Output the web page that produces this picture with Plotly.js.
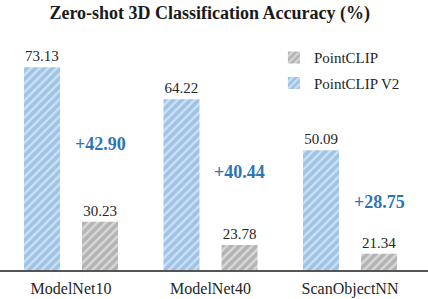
<!DOCTYPE html>
<html>
<head>
<meta charset="utf-8">
<script src="https://cdn.plot.ly/plotly-3.0.1.min.js"></script>
<style>html,body{margin:0;padding:0;background:#fff;}#chart{width:428px;height:299px;}</style>
</head>
<body>
<div id="chart"></div>
<script>
const categories = ["ModelNet10", "ModelNet40", "ScanObjectNN"];
const pointclip = [30.23, 23.78, 21.34];
const pointclipV2 = [73.13, 64.22, 50.09];
const seriesNames = ["PointCLIP", "PointCLIP V2"];

const blue = "#9dc3e6";
const gray = "#b3b3b3";
const serif = "Liberation Serif";
const textColor = "#262626";

const traceV2 = {
  type: "bar", name: seriesNames[1], x: categories, y: pointclipV2,
  text: pointclipV2.map(v => v.toFixed(2)), textposition: "outside", cliponaxis: false,
  textfont: {family: serif, size: 15, color: textColor},
  marker: {color: blue, line: {width: 0},
    pattern: {shape: "/", fgcolor: "#ffffff", bgcolor: blue, size: 6, solidity: 0.4, fillmode: "overlay"}},
  legendgroup: "b", legendrank: 2, hoverinfo: "none"
};
const traceP = {
  type: "bar", name: seriesNames[0], x: categories, y: pointclip,
  text: pointclip.map(v => v.toFixed(2)), textposition: "outside", cliponaxis: false,
  textfont: {family: serif, size: 15, color: textColor},
  marker: {color: gray, line: {width: 0},
    pattern: {shape: "/", fgcolor: "#ffffff", bgcolor: gray, size: 6, solidity: 0.4, fillmode: "overlay"}},
  legendgroup: "a", legendrank: 1, hoverinfo: "none"
};

const annotations = categories.map((c, i) => ({
  x: c, xref: "x", y: (pointclipV2[i] + pointclip[i]) / 2, yref: "y",
  xshift: 29, showarrow: false,
  text: "<b>+" + (pointclipV2[i] - pointclip[i]).toFixed(2) + "</b>",
  font: {family: serif, size: 18, color: "#2e75b6"}
}));

const layout = {
  width: 428, height: 299,
  margin: {l: 0, r: 0, t: 40, b: 29, pad: 0},
  paper_bgcolor: "#fff", plot_bgcolor: "#fff",
  title: {text: "<b>Zero-shot 3D Classification Accuracy (%)</b>", x: 0.49, xanchor: "center",
    y: 0.957, yref: "container", yanchor: "middle",
    font: {family: serif, size: 18, color: "#1a1a1a"}},
  barmode: "group", bargap: 0.168, bargroupgap: 0.38,
  xaxis: {type: "category", range: [-0.509, 2.559], showgrid: false, zeroline: false,
    showline: true, linecolor: "#555555", linewidth: 2, ticks: "", ticklabelstandoff: 3,
    tickfont: {family: serif, size: 16, color: textColor}, fixedrange: true},
  yaxis: {range: [16.8, 80.7], visible: false, showgrid: false, zeroline: false, fixedrange: true},
  showlegend: true,
  legend: {x: 0.64, y: 0.995, xanchor: "left", yanchor: "top", traceorder: "grouped",
    tracegroupgap: 3, font: {family: serif, size: 15, color: textColor}, bgcolor: "rgba(0,0,0,0)"},
  annotations: annotations
};

Plotly.newPlot("chart", [traceV2, traceP], layout, {displayModeBar: false, staticPlot: true});
</script>
</body>
</html>
